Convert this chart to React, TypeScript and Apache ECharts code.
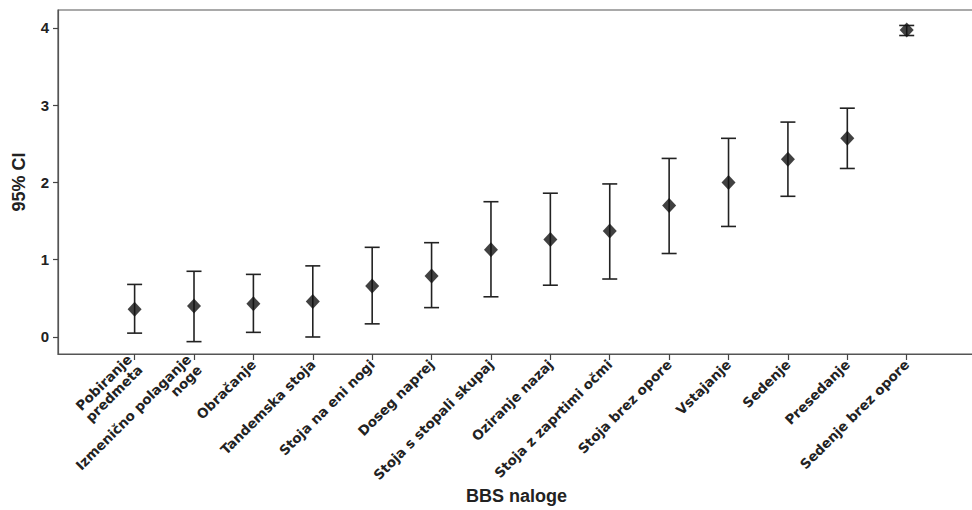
import React, { useEffect, useRef } from "react";
import * as echarts from "echarts";

const categories = [
  "Pobiranje\npredmeta",
  "Izmenično polaganje\nnoge",
  "Obračanje",
  "Tandemska stoja",
  "Stoja na eni nogi",
  "Doseg naprej",
  "Stoja s stopali skupaj",
  "Oziranje nazaj",
  "Stoja z zaprtimi očmi",
  "Stoja brez opore",
  "Vstajanje",
  "Sedenje",
  "Presedanje",
  "Sedenje brez opore",
];
const means = [0.36, 0.4, 0.43, 0.46, 0.66, 0.79, 1.13, 1.26, 1.37, 1.7, 2.0, 2.3, 2.57, 3.97];
const lower = [0.05, -0.06, 0.06, 0.0, 0.17, 0.38, 0.52, 0.67, 0.75, 1.08, 1.43, 1.82, 2.18, 3.9];
const upper = [0.68, 0.85, 0.81, 0.92, 1.16, 1.22, 1.75, 1.86, 1.98, 2.31, 2.57, 2.78, 2.96, 4.03];
const yTicks = [0, 1, 2, 3, 4];

export default function App() {
  const ref = useRef<HTMLDivElement>(null);
  useEffect(() => {
    document.body.style.margin = "0";
    if (!ref.current) return;
    const chart = echarts.init(ref.current, null, { renderer: "svg" });
    const idx = categories.map((_, i) => i);
    const lineColor = "#444";
    const textColor = "#222";
    chart.setOption({
      animation: false,
      grid: {
        left: 58,
        right: -3,
        top: 10,
        bottom: 156,
        show: true,
        borderColor: "#555",
        borderWidth: 1.2,
        outerBoundsMode: "none",
        containLabel: false,
      },
      xAxis: {
        type: "value",
        min: -1.29,
        max: 14.15,
        splitLine: { show: false },
        axisLine: { show: true, onZero: false, lineStyle: { color: "#555", width: 1.2 } },
        axisTick: {
          show: true,
          customValues: idx,
          length: 6,
          lineStyle: { color: lineColor, width: 1.2 },
        },
        axisLabel: {
          customValues: idx,
          rotate: 45,
          margin: 8,
          fontFamily: "DejaVu Sans",
          fontWeight: "bold",
          fontSize: 13.5,
          lineHeight: 15,
          color: textColor,
          formatter: (v: number) => categories[Math.round(v)] ?? "",
        },
        name: "BBS naloge",
        nameLocation: "middle",
        nameGap: 133,
        nameMoveOverlap: false,
        nameTextStyle: {
          fontFamily: "Liberation Sans",
          fontWeight: "bold",
          fontSize: 18,
          color: textColor,
          verticalAlign: "top",
        },
      },
      yAxis: {
        type: "value",
        min: -0.22,
        max: 4.23,
        splitLine: { show: false },
        axisLine: { show: true, onZero: false, lineStyle: { color: "#555", width: 1.2 } },
        axisTick: {
          show: true,
          customValues: yTicks,
          length: 5,
          lineStyle: { color: lineColor, width: 1.2 },
        },
        axisLabel: {
          customValues: yTicks,
          margin: 9,
          fontFamily: "Liberation Sans",
          fontWeight: "bold",
          fontSize: 15,
          color: textColor,
        },
        name: "95% CI",
        nameLocation: "middle",
        nameGap: 30,
        nameMoveOverlap: false,
        nameTextStyle: {
          fontFamily: "Liberation Sans",
          fontWeight: "bold",
          fontSize: 18,
          color: textColor,
        },
      },
      series: [
        {
          type: "custom",
          data: idx.map((i) => [i, lower[i], upper[i]]),
          renderItem: (params: any, api: any) => {
            const x = api.value(0);
            const lo = api.coord([x, api.value(1)]);
            const hi = api.coord([x, api.value(2)]);
            const hw = 7.5;
            const style = { stroke: "#222", lineWidth: 1.6, fill: "none" };
            return {
              type: "group",
              children: [
                { type: "line", shape: { x1: lo[0], y1: lo[1], x2: hi[0], y2: hi[1] }, style },
                { type: "line", shape: { x1: hi[0] - hw, y1: hi[1], x2: hi[0] + hw, y2: hi[1] }, style },
                { type: "line", shape: { x1: lo[0] - hw, y1: lo[1], x2: lo[0] + hw, y2: lo[1] }, style },
              ],
            };
          },
          z: 2,
        },
        {
          type: "scatter",
          data: idx.map((i) => [i, means[i]]),
          symbol: "diamond",
          symbolSize: [14, 15],
          itemStyle: { color: "#111" },
          z: 3,
        },
      ],
    });
    return () => chart.dispose();
  }, []);
  return <div ref={ref} style={{ width: 972, height: 510 }} />;
}
